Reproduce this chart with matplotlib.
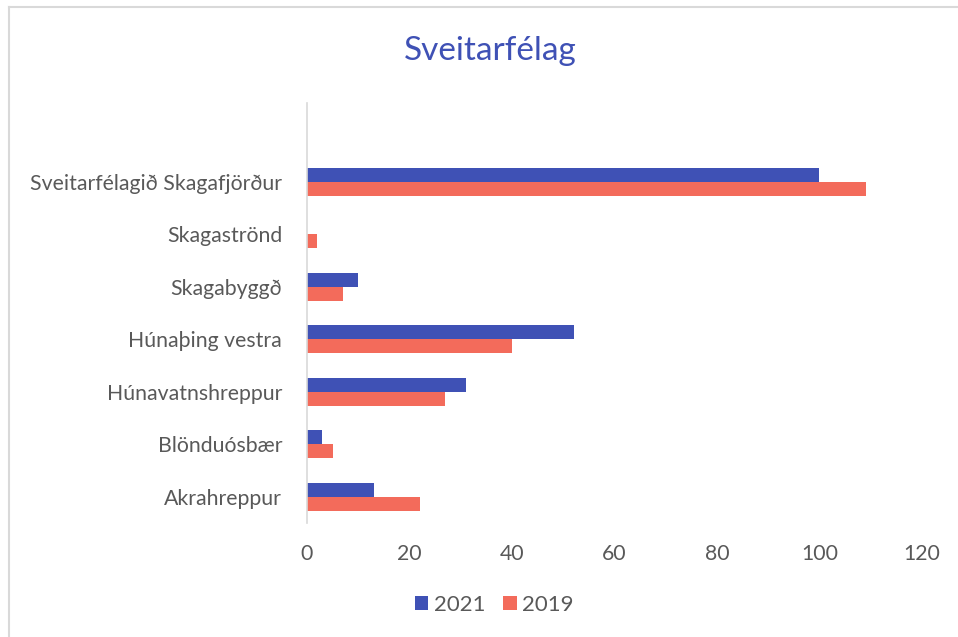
import matplotlib
matplotlib.use("Agg")
import matplotlib.pyplot as plt
import numpy as np
from matplotlib.lines import Line2D

categories = ["Akrahreppur", "Blönduósbær", "Húnavatnshreppur", "Húnaþing vestra",
              "Skagabyggð", "Skagaströnd", "Sveitarfélagið Skagafjörður"]
v2021 = [13, 3, 31, 52, 10, 0, 100]
v2019 = [22, 5, 27, 40, 7, 2, 109]
xticks = [0, 20, 40, 60, 80, 100, 120]

blue = "#3F51B5"
red = "#F36B5B"
grey = "#595959"

plt.rcParams['font.family'] = ['Lato', 'DejaVu Sans']

fig = plt.figure(figsize=(9.58, 6.37), dpi=100)
ax = fig.add_axes([0.3205, 0.179, 0.6419, 0.6593])

y = np.arange(len(categories))
h = 0.265
ax.barh(y + h / 2, v2021, height=h, color=blue, label="2021")
ax.barh(y - h / 2, v2019, height=h, color=red, label="2019")

ax.set_ylim(-0.5, len(categories) + 0.5)
ax.set_xlim(0, 120)
ax.set_xticks(xticks)
ax.set_yticks(y)
ax.set_yticklabels(categories)
ax.tick_params(axis='both', length=0, labelsize=15.3, colors=grey)
ax.tick_params(axis='x', pad=15)
ax.tick_params(axis='y', pad=18)
for s in ["top", "right", "bottom"]:
    ax.spines[s].set_visible(False)
ax.spines["left"].set_color("#D9D9D9")
ax.spines["left"].set_linewidth(1.2)

fig.text(0.512, 0.92, "Sveitarfélag", ha="center", va="center", fontsize=24, color=blue)

fig.legend(loc="center", bbox_to_anchor=(0.516, 0.05), ncol=2, frameon=False,
           fontsize=16, labelcolor=grey, handlelength=0.6, handleheight=0.6,
           columnspacing=0.8, handletextpad=0.25)

# chart border
fig.add_artist(Line2D([0.0095, 0.0095], [0, 0.989], color="#D9D9D9", lw=1.5))
fig.add_artist(Line2D([0.0095, 1], [0.989, 0.989], color="#D9D9D9", lw=1.5))

fig.savefig("out.png", dpi=100)
